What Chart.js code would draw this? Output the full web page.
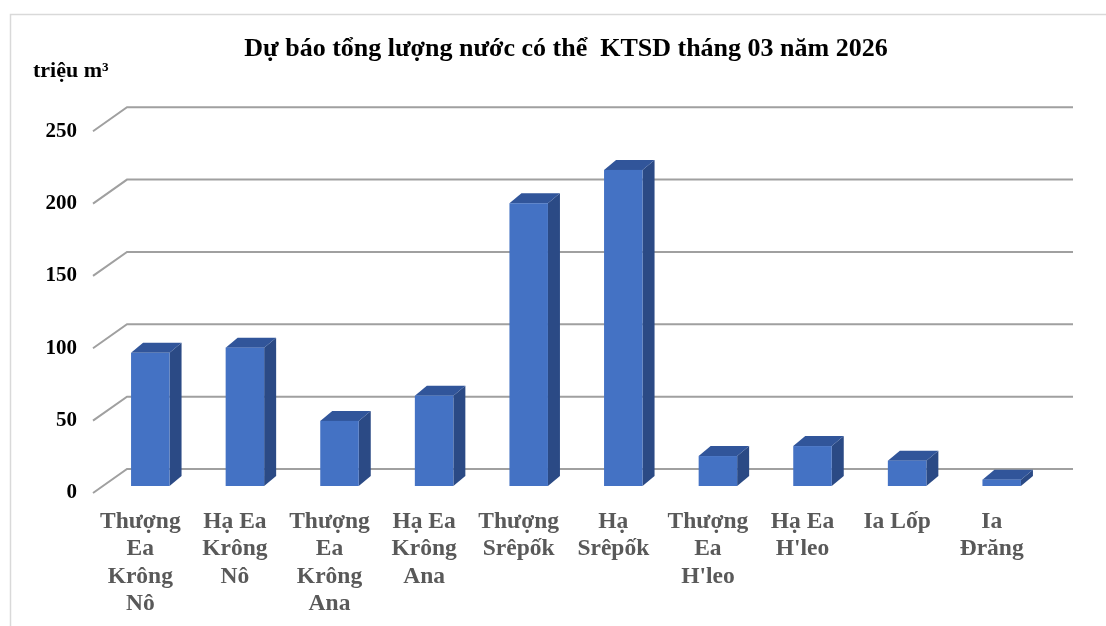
<!DOCTYPE html>
<html>
<head>
<meta charset="utf-8">
<script src="https://cdn.jsdelivr.net/npm/chart.js@4.4.1/dist/chart.umd.min.js"></script>
<style>
  html, body { margin: 0; padding: 0; background: #fff; }
  #wrap { width: 1106px; height: 626px; }
</style>
</head>
<body>
<div id="wrap"><canvas id="chart" width="1106" height="626"></canvas></div>
<script>
const categories = [
  ['Thượng', 'Ea', 'Krông', 'Nô'],
  ['Hạ Ea', 'Krông', 'Nô'],
  ['Thượng', 'Ea', 'Krông', 'Ana'],
  ['Hạ Ea', 'Krông', 'Ana'],
  ['Thượng', 'Srêpốk'],
  ['Hạ', 'Srêpốk'],
  ['Thượng', 'Ea', "H'leo"],
  ['Hạ Ea', "H'leo"],
  ['Ia Lốp'],
  ['Ia', 'Đrăng']
];
const volumes = [92, 95.6, 45, 62.4, 195.4, 218.4, 20.7, 27.6, 17.5, 4.4];
const yTicks = [0, 50, 100, 150, 200, 250];

const titleText = 'Dự báo tổng lượng nước có thể  KTSD tháng 03 năm 2026';
const unitText = 'triệu m³';

const FONT = "'Liberation Serif', 'Times New Roman', serif";

// back wall offset and bar depth offsets (px)
const wall = { dx: 34, dy: 24 };
const barShift = { dx: 10, dy: 7 };
const barDepth = { dx: 12, dy: 10 };

const frame = {
  id: 'frame',
  beforeDraw(chart) {
    const ctx = chart.ctx;
    ctx.save();
    ctx.strokeStyle = '#d9d9d9';
    ctx.lineWidth = 1.5;
    ctx.strokeRect(10.5, 14.5, 1200, 700);
    ctx.fillStyle = '#000';
    ctx.font = 'bold 22px ' + FONT;
    ctx.textBaseline = 'middle';
    ctx.fillText(unitText, 33, 71);
    ctx.restore();
  },
  beforeDatasetsDraw(chart) {
    const ctx = chart.ctx, a = chart.chartArea, ys = chart.scales.y;
    ctx.save();
    ctx.strokeStyle = '#a0a0a0';
    ctx.lineWidth = 2;
    yTicks.forEach(v => {
      const y = ys.getPixelForValue(v);
      ctx.beginPath();
      ctx.moveTo(a.left, y);
      ctx.lineTo(a.left + wall.dx, y - wall.dy);
      ctx.lineTo(a.right + wall.dx, y - wall.dy);
      ctx.stroke();
    });
    ctx.restore();
  },
  afterDatasetsDraw(chart) {
    const ctx = chart.ctx;
    const meta = chart.getDatasetMeta(0);
    ctx.save();
    meta.data.forEach(bar => {
      const p = bar.getProps(['x', 'y', 'base', 'width'], true);
      const L = p.x - p.width / 2 + barShift.dx;
      const R = p.x + p.width / 2 + barShift.dx;
      const T = p.y - barShift.dy;
      const B = p.base - barShift.dy;
      // side
      ctx.fillStyle = '#2b4a85';
      ctx.beginPath();
      ctx.moveTo(R, T); ctx.lineTo(R + barDepth.dx, T - barDepth.dy);
      ctx.lineTo(R + barDepth.dx, B - barDepth.dy); ctx.lineTo(R, B);
      ctx.closePath(); ctx.fill();
      // top
      ctx.fillStyle = '#31559a';
      ctx.beginPath();
      ctx.moveTo(L, T); ctx.lineTo(L + barDepth.dx, T - barDepth.dy);
      ctx.lineTo(R + barDepth.dx, T - barDepth.dy); ctx.lineTo(R, T);
      ctx.closePath(); ctx.fill();
      // front
      ctx.fillStyle = '#4472c4';
      ctx.fillRect(L, T, R - L, B - T);
    });
    ctx.restore();
  }
};

new Chart(document.getElementById('chart'), {
  type: 'bar',
  data: {
    labels: categories,
    datasets: [{
      data: volumes,
      backgroundColor: 'rgba(0,0,0,0)',
      borderWidth: 0,
      barPercentage: 0.407,
      categoryPercentage: 1
    }]
  },
  options: {
    responsive: false,
    animation: false,
    events: [],
    layout: { padding: { left: 0, right: 67, top: 0, bottom: 0 } },
    plugins: {
      legend: { display: false },
      tooltip: { enabled: false },
      title: {
        display: true,
        fullSize: false,
        text: titleText,
        color: '#000',
        font: { family: FONT, size: 26, weight: 'bold', lineHeight: 1.2 },
        padding: { top: 34, bottom: 66 }
      }
    },
    scales: {
      x: {
        grid: { display: false, drawTicks: false },
        border: { display: false },
        ticks: {
          color: '#595959',
          padding: 15,
          maxRotation: 0,
          autoSkip: false,
          font: { family: FONT, size: 23.5, weight: 'bold', lineHeight: 1.17 }
        },
        afterFit(s) { s.height = 133; }
      },
      y: {
        min: 0,
        max: 250,
        grid: { display: false, drawTicks: false },
        border: { display: false },
        ticks: {
          stepSize: 50,
          color: '#000',
          padding: 16,
          font: { family: FONT, size: 21, weight: 'bold' }
        },
        afterFit(s) { s.width = 93; }
      }
    }
  },
  plugins: [frame]
});
</script>
</body>
</html>
